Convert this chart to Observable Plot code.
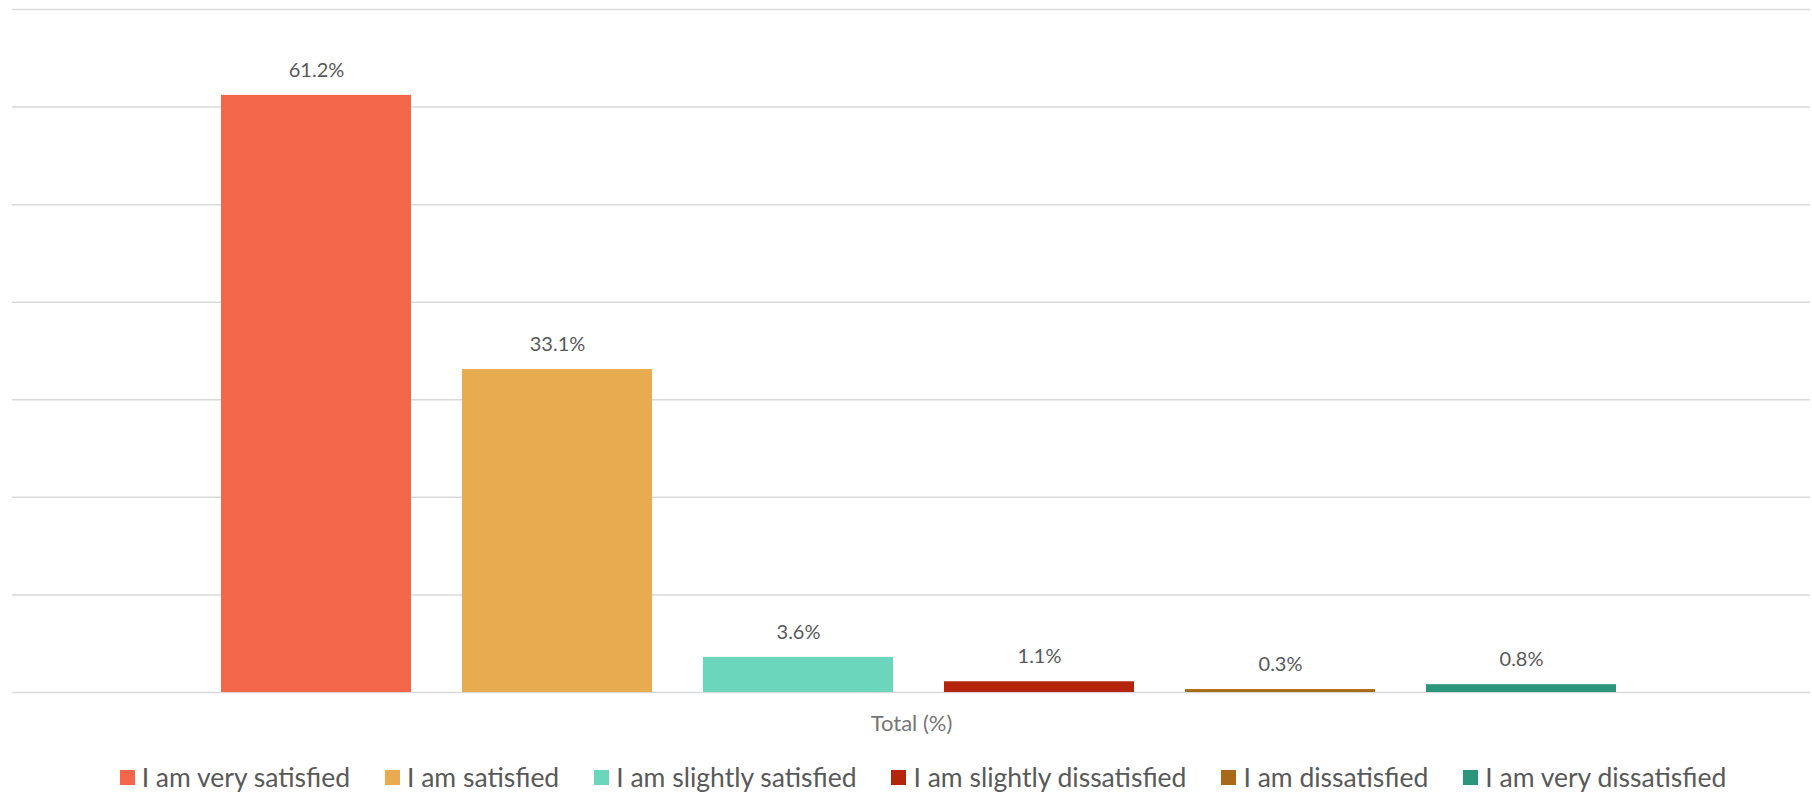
<!DOCTYPE html>
<html>
<head>
<meta charset="utf-8">
<script src="https://cdn.jsdelivr.net/npm/d3@7"></script>
<script src="https://cdn.jsdelivr.net/npm/@observablehq/plot@0.6"></script>
<style>
  html, body { margin: 0; padding: 0; background: #fff; }
  body { width: 1812px; height: 794px; overflow: hidden; font-family: Lato, "Open Sans", sans-serif; }
  #legend { display: flex; justify-content: center; align-items: center; gap: 35px; margin-top: 19px; padding-left: 34px; font-size: 26.5px; color: #595959; line-height: 1; }
  .item { display: flex; align-items: center; }
  .sw { width: 15px; height: 15px; margin-right: 7px; }
</style>
</head>
<body>
<div id="chart"></div>
<div id="legend"></div>
<script>
const categories = ["I am very satisfied", "I am satisfied", "I am slightly satisfied", "I am slightly dissatisfied", "I am dissatisfied", "I am very dissatisfied"];
const values = [61.2, 33.1, 3.6, 1.1, 0.3, 0.8];
const colors = ["#F4664A", "#E8AB4F", "#6BD6BC", "#B5250C", "#A86A19", "#2A957A"];
const yTicks = [0, 10, 20, 30, 40, 50, 60, 70];
const axisLabel = "Total (%)";

const data = categories.map((c, i) => ({category: c, value: values[i]}));

const plot = Plot.plot({
  width: 1812,
  height: 745,
  marginTop: 9,
  marginBottom: 53,
  marginLeft: 12,
  marginRight: 2,
  style: {fontFamily: "Lato, 'Open Sans', sans-serif", background: "#fff"},
  x: {domain: categories, paddingInner: 0.21, paddingOuter: 0.8275, align: 0.52, axis: null},
  y: {domain: [0, 70], axis: null},
  color: {domain: categories, range: colors},
  marks: [
    Plot.ruleY(yTicks, {stroke: "#d9d9d9", strokeWidth: 1.5}),
    Plot.barY(data, {x: "category", y: "value", fill: "category"}),
    Plot.text(data, {x: "category", y: "value", text: d => d.value.toFixed(1) + "%", dy: -25, fill: "#595959", fontSize: 20, lineAnchor: "middle"}),
    Plot.text([axisLabel], {frameAnchor: "bottom", dy: 31, fill: "#767676", fontSize: 22, lineAnchor: "middle"})
  ]
});
document.getElementById("chart").appendChild(plot);

const legend = document.getElementById("legend");
const colorScale = plot.scale("color");
categories.forEach((c) => {
  const item = document.createElement("div");
  item.className = "item";
  const sw = document.createElement("div");
  sw.className = "sw";
  sw.style.background = colorScale.apply(c);
  const t = document.createElement("span");
  t.textContent = c;
  item.appendChild(sw);
  item.appendChild(t);
  legend.appendChild(item);
});
</script>
</body>
</html>
